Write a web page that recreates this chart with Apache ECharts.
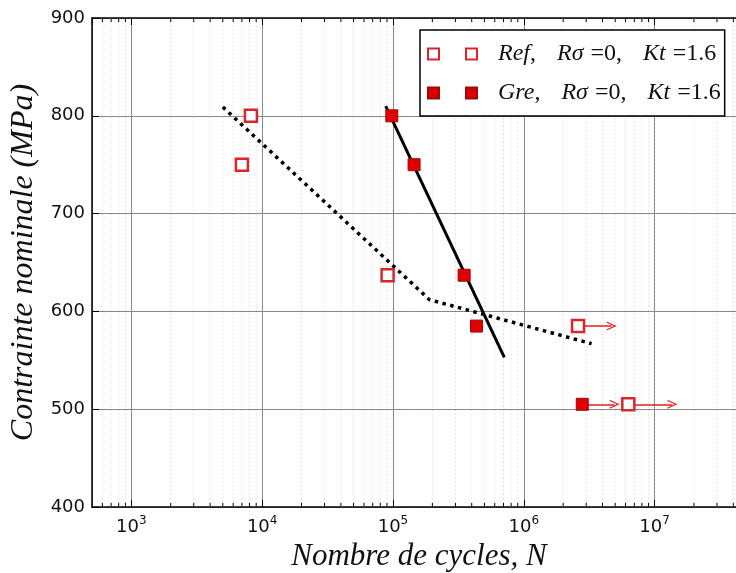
<!DOCTYPE html>
<html>
<head>
<meta charset="utf-8">
<script src="https://cdn.jsdelivr.net/npm/echarts@6/dist/echarts.min.js"></script>
<style>
  html, body { margin: 0; padding: 0; background: #fff; }
  #main { width: 736px; height: 573px; }
</style>
</head>
<body>
<div id="main"></div>
<script>
// axes
const xMin = 500, xMax = 5e7;
const yMin = 400, yMax = 900, yStep = 100;
const minorMult = [2, 3, 4, 5, 6, 7, 8, 9];
const minorDecades = [1e2, 1e3, 1e4, 1e5, 1e6, 1e7];

// essais Ref (carres vides)
const refN = [8.2e3, 7.0e3, 9.1e4, 2.6e6, 6.3e6];
const refS = [800, 750, 637, 585, 505];
// essais Gre (carres pleins)
const greN = [9.8e4, 1.45e5, 3.5e5, 4.35e5, 2.8e6];
const greS = [800, 750, 637, 585, 505];

// courbes de tendance
const refFitN = [5.0e3, 1.9e5, 3.3e6];
const refFitS = [809, 612, 567];
const greFitN = [8.8e4, 7.1e5];
const greFitS = [810, 553];

// non rompus (fleches) : depart N, arrivee N, contrainte
const runFrom = [2.6e6, 2.8e6, 6.3e6];
const runTo = [4.7e6, 4.95e6, 1.37e7];
const runS = [585, 505, 505];

const refName = 'Ref';
const greName = 'Gre';

const minorTicks = [];
minorDecades.forEach(d => minorMult.forEach(m => {
    const v = d * m;
    if (v > xMin && v < xMax) minorTicks.push([v]);
}));

const serif = 'Liberation Serif';
const red = '#d8262c';

const chart = echarts.init(document.getElementById('main'));

const chevron = 'path://M0,10 L5,0 L10,10 L8.6,10 L5,2.8 L1.4,10 Z';
const twoSquares = 'path://M0,0h11v11h-11z M38,0h11v11h-11z';

const option = {
    animation: false,
    grid: {left: 92, top: 18, width: 654, height: 489, outerBoundsMode: 'none', containLabel: false},
    xAxis: [{
        type: 'log',
        logBase: 10,
        min: xMin, max: xMax,
        name: 'Nombre de cycles, N',
        nameLocation: 'middle',
        nameGap: 31,
        nameTextStyle: {fontFamily: serif, fontStyle: 'italic', fontSize: 31, color: '#111'},
        axisLine: {lineStyle: {color: '#000', width: 1.5}},
        axisTick: {inside: true, length: 7, lineStyle: {color: '#000'}},
        axisLabel: {
            margin: 8,
            showMinLabel: false, showMaxLabel: false,
            formatter: v => '{b|10}{s|' + Math.round(Math.log10(v)) + '}',
            rich: {
                b: {fontFamily: 'DejaVu Sans', fontSize: 18, color: '#111'},
                s: {fontFamily: 'DejaVu Sans', fontSize: 12, color: '#111', verticalAlign: 'bottom', padding: [0, 0, 12, 0]}
            }
        },
        splitLine: {show: true, lineStyle: {color: '#888', width: 1}}
    }, {
        type: 'log',
        logBase: 10,
        min: xMin, max: xMax,
        position: 'top',
        axisLine: {lineStyle: {color: '#000', width: 1.5}},
        axisTick: {inside: true, length: 7, lineStyle: {color: '#000'}},
        axisLabel: {show: false},
        splitLine: {show: false}
    }],
    yAxis: {
        type: 'value',
        min: yMin, max: yMax, interval: yStep,
        name: 'Contrainte nominale (MPa)',
        nameLocation: 'middle',
        nameGap: 50,
        nameRotate: 90,
        nameTextStyle: {fontFamily: serif, fontStyle: 'italic', fontSize: 32, color: '#111'},
        axisLine: {show: true, lineStyle: {color: '#000', width: 1.5}},
        axisTick: {inside: true, length: 7, lineStyle: {color: '#000'}},
        axisLabel: {margin: 7, fontFamily: 'DejaVu Sans', fontSize: 18, color: '#111'},
        splitLine: {show: true, lineStyle: {color: '#888', width: 1}}
    },
    legend: {
        left: 420, top: 30,
        orient: 'vertical',
        padding: [12, 4, 11, 7],
        itemGap: 15,
        itemWidth: 49, itemHeight: 11,
        backgroundColor: '#fff',
        borderColor: '#000', borderWidth: 1.5, borderRadius: 0,
        data: [
            {name: refName, icon: twoSquares},
            {name: greName, icon: twoSquares}
        ],
        formatter: name => '{sp|}{i|' + name + '}{u|,}{g1|}{i|Rσ}{g2|}{u|=0,}{g1|}{i|Kt}{g2|}{u|=1.6}',
        textStyle: {
            fontFamily: serif, fontSize: 24, color: '#111',
            rich: {
                sp: {width: 16},
                g1: {width: 21},
                g2: {width: 7},
                i: {fontFamily: serif, fontStyle: 'italic', fontSize: 24, color: '#111'},
                u: {fontFamily: serif, fontSize: 24, color: '#111'}
            }
        }
    },
    series: [{
        type: 'custom',
        silent: true,
        z: 1,
        data: minorTicks,
        renderItem: (params, api) => {
            const x = api.value(0);
            const p0 = api.coord([x, yMin]);
            const p1 = api.coord([x, yMax]);
            return {
                type: 'group',
                children: [{
                    type: 'line',
                    shape: {x1: p0[0], y1: p0[1], x2: p1[0], y2: p1[1]},
                    style: {stroke: '#cfcfcf', lineWidth: 1, lineDash: [1, 3]}
                }, {
                    type: 'line',
                    shape: {x1: p0[0], y1: p0[1], x2: p0[0], y2: p0[1] - 4},
                    style: {stroke: '#000', lineWidth: 1}
                }, {
                    type: 'line',
                    shape: {x1: p1[0], y1: p1[1], x2: p1[0], y2: p1[1] + 4},
                    style: {stroke: '#000', lineWidth: 1}
                }]
            };
        }
    }, {
        type: 'line',
        silent: true,
        z: 3,
        symbol: 'none',
        data: refFitN.map((n, i) => [n, refFitS[i]]),
        lineStyle: {color: '#000', width: 3.5, type: [3.5, 4.5], cap: 'butt'}
    }, {
        type: 'line',
        silent: true,
        z: 3,
        symbol: 'none',
        data: greFitN.map((n, i) => [n, greFitS[i]]),
        lineStyle: {color: '#000', width: 3}
    }, {
        type: 'scatter',
        name: greName,
        z: 5,
        symbol: 'rect',
        symbolSize: 12,
        data: greN.map((n, i) => [n, greS[i]]),
        itemStyle: {color: '#e00000', borderColor: '#9a0a0a', borderWidth: 1, opacity: 1}
    }, {
        type: 'scatter',
        name: refName,
        z: 6,
        symbol: 'rect',
        symbolSize: 12,
        data: refN.map((n, i) => [n, refS[i]]),
        itemStyle: {color: '#fff', borderColor: red, borderWidth: 2.5, opacity: 1},
        markLine: {
            silent: true,
            symbol: ['none', chevron],
            symbolSize: [9, 10],
            label: {show: false},
            lineStyle: {color: '#e02020', width: 1.5, type: 'solid'},
            emphasis: {disabled: true},
            data: runFrom.map((n, i) => [{coord: [n, runS[i]]}, {coord: [runTo[i], runS[i]]}])
        }
    }]
};

chart.setOption(option);
</script>
</body>
</html>
